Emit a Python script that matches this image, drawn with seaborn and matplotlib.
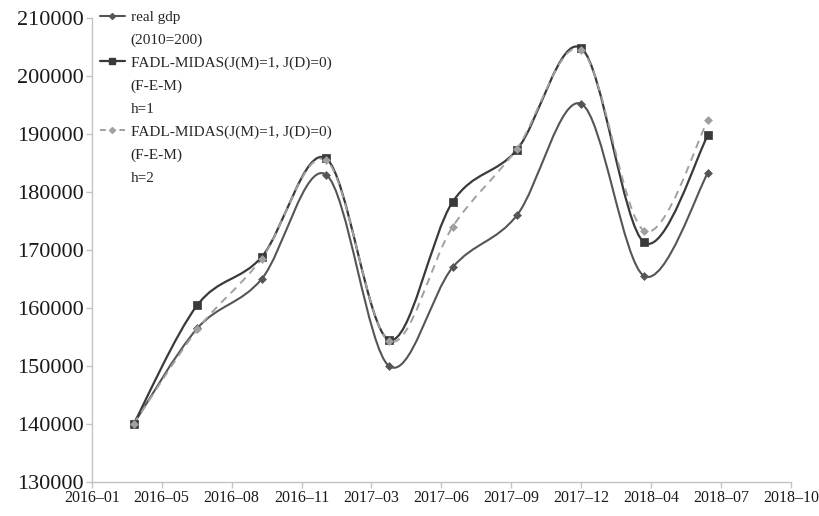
import numpy as np
import pandas as pd
import matplotlib
matplotlib.use("Agg")
import matplotlib.pyplot as plt
import matplotlib.dates as mdates
from matplotlib.path import Path
from matplotlib.patches import PathPatch
from matplotlib.lines import Line2D
import seaborn as sns

# quarterly observations
dates = ["2016-03-31", "2016-06-30", "2016-09-30", "2016-12-31", "2017-03-31",
         "2017-06-30", "2017-09-30", "2017-12-31", "2018-03-31", "2018-06-30"]
real_gdp = [140000, 156500, 165000, 183000, 150000, 167000, 176000, 195200, 165500, 183300]
midas_h1 = [140000, 160500, 168800, 185800, 154500, 178300, 187300, 204800, 171300, 189800]
midas_h2 = [140000, 156300, 168500, 185500, 154300, 174000, 187500, 204500, 173300, 192400]

# x axis ticks (every 100 days, as in the original)
tick_start = "2016-01-31"
tick_labels = ["2016–01", "2016–05", "2016–08", "2016–11", "2017–03", "2017–06",
               "2017–09", "2017–12", "2018–04", "2018–07", "2018–10"]

sns.set_style("ticks")
plt.rcParams["font.family"] = ["Liberation Serif", "DejaVu Serif"]

df = pd.DataFrame({"date": pd.to_datetime(dates), "real": real_gdp,
                   "h1": midas_h1, "h2": midas_h2})

fig = plt.figure(figsize=(8.19, 5.16), dpi=100)
ax = fig.add_axes([0.112, 0.066, 0.854, 0.899])


def smooth_path(x, y):
    # bezier curve through the points (like excel "smoothed line")
    pts = np.column_stack([x, y]).astype(float)
    n = len(pts)
    verts = [pts[0]]
    codes = [Path.MOVETO]
    for i in range(n - 1):
        p0 = pts[max(i - 1, 0)]
        p1 = pts[i]
        p2 = pts[i + 1]
        p3 = pts[min(i + 2, n - 1)]
        verts += [p1 + (p2 - p0) / 6, p2 - (p3 - p1) / 6, p2]
        codes += [Path.CURVE4] * 3
    return Path(verts, codes)


series = [
    ("real", "#555555", "-", 1.5, "D", 4),
    ("h1", "#3a3a3a", "-", 1.6, "s", 6),
    ("h2", "#a0a0a0", (0, (4, 3)), 1.4, "D", 4),
]

# markers via seaborn
for col, color, ls, lw, mk, ms in series:
    sns.scatterplot(data=df, x="date", y=col, ax=ax, color=color, marker=mk,
                    s=ms ** 2, edgecolor=color, linewidth=0.5, zorder=4, legend=False)

xnum = mdates.date2num(df["date"])
for col, color, ls, lw, mk, ms in series:
    ax.add_patch(PathPatch(smooth_path(xnum, df[col].values), fill=False,
                           edgecolor=color, linewidth=lw, linestyle=ls, zorder=3))

start = pd.Timestamp(tick_start)
ticks = pd.date_range(start, periods=len(tick_labels), freq="100D")
ax.set_xlim(ticks[0], ticks[-1])
ax.set_xticks(ticks)
ax.set_xticklabels(tick_labels, fontsize=11.5)
ax.set_ylim(130000, 210000)
ax.set_yticks(range(130000, 210001, 10000))
ax.set_yticklabels([str(v) for v in range(130000, 210001, 10000)], fontsize=16)
ax.set_xlabel("")
ax.set_ylabel("")

for s in ["top", "right"]:
    ax.spines[s].set_visible(False)
for s in ["left", "bottom"]:
    ax.spines[s].set_color("#c4c4c4")
    ax.spines[s].set_linewidth(1.0)
ax.tick_params(axis="both", colors="#c4c4c4", length=4, width=1, labelcolor="#1a1a1a", pad=2)

# legend: one row per text line, handle on first line of each entry
blank = Line2D([], [], color="none")
handles = [
    Line2D([], [], color="#555555", lw=1.5, marker="D", ms=3),
    blank,
    Line2D([], [], color="#3a3a3a", lw=1.6, marker="s", ms=5),
    blank, blank,
    Line2D([], [], color="#a0a0a0", lw=1.4, ls=(0, (3, 2)), marker="D", ms=3),
    blank, blank,
]
labels = ["real gdp", "(2010=200)",
          "FADL-MIDAS(J(M)=1, J(D)=0)", "(F-E-M)", "h=1",
          "FADL-MIDAS(J(M)=1, J(D)=0)", "(F-E-M)", "h=2"]
ax.legend(handles, labels, loc="upper left", bbox_to_anchor=(0.012, 1.017),
          frameon=False, fontsize=11, labelspacing=0.6, handlelength=1.6,
          handletextpad=0.4, borderpad=0, borderaxespad=0)

fig.savefig("out.png", dpi=100)
